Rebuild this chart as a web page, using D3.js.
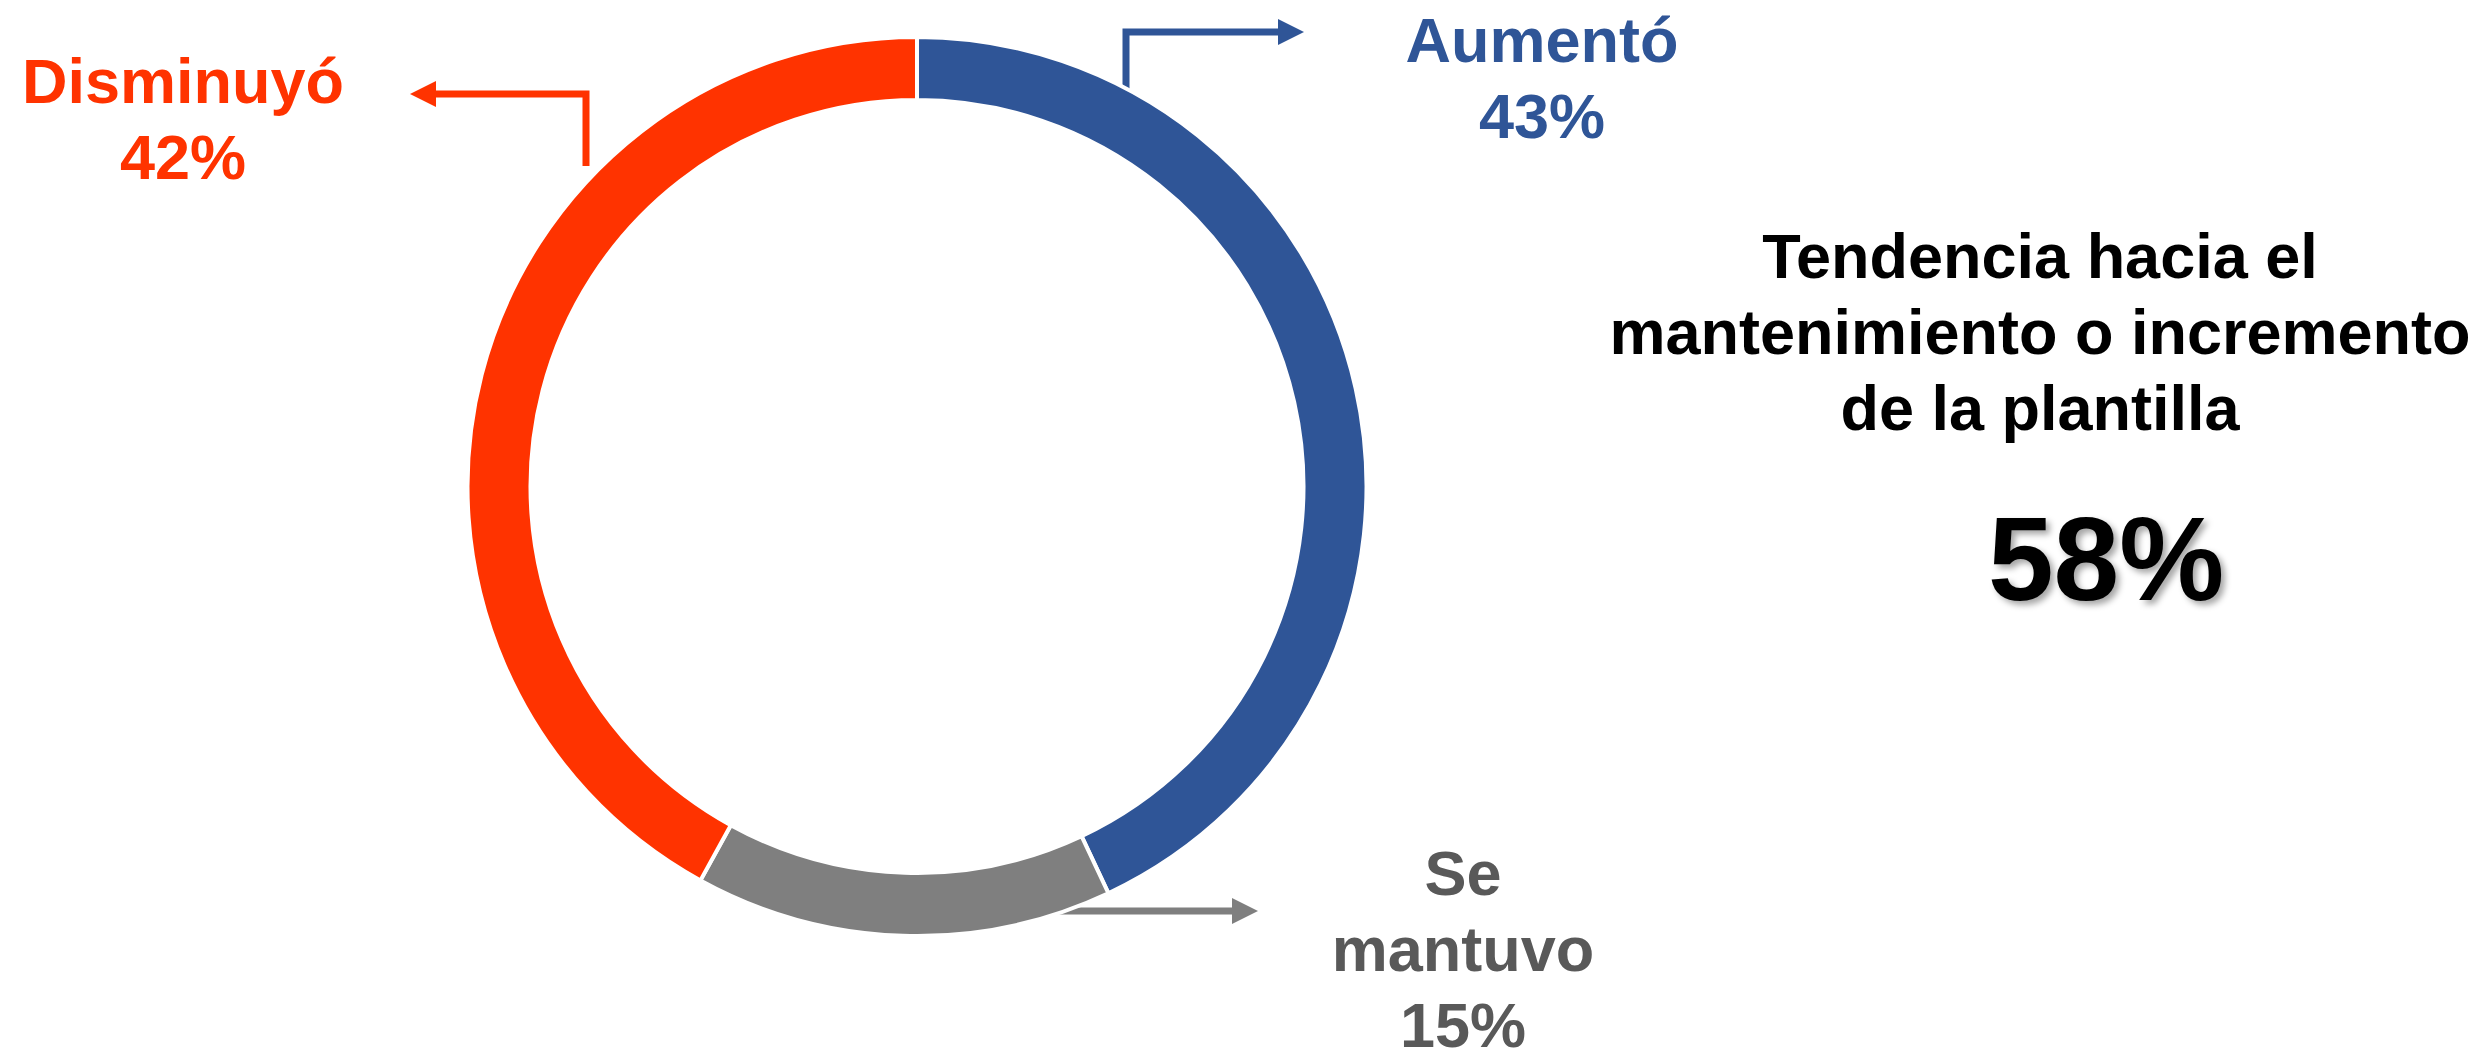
<!DOCTYPE html>
<html>
<head>
<meta charset="utf-8">
<script src="https://cdn.jsdelivr.net/npm/d3@7"></script>
<style>
	html, body { margin: 0; padding: 0; background: #ffffff; }
	svg text { font-family: "Liberation Sans", Arial, Helvetica, sans-serif; font-weight: bold; }
</style>
</head>
<body>
<svg id="chart" width="2492" height="1050"></svg>
<script>

// data
let categories = ["Aumentó", "Se mantuvo", "Disminuyó"];
let values = [43, 15, 42];
let labelLines = [["Aumentó"], ["Se", "mantuvo"], ["Disminuyó"]];
let sliceColors = ["#2F5597", "#7F7F7F", "#FF3300"];
let labelColors = ["#2F5597", "#595959", "#FF3300"];

let summaryLines = ["Tendencia hacia el", "mantenimiento o incremento", "de la plantilla"];
let summaryValue = "58%";

let svg = d3.select("#chart");

let cx = 917, cy = 486.5;
let outerR = 449.5, innerR = 386.5;
let headLen = 26, headW = 26;

let data = categories.map(function (c, i) {
	return { cat: c, value: values[i], lines: labelLines[i], fill: sliceColors[i], text: labelColors[i] };
});

let pie = d3.pie()
	.sort(null)
	.value(function (d) { return d.value; });

let arc = d3.arc()
	.innerRadius(innerR)
	.outerRadius(outerR);

let defs = svg.append("defs");
let shadow = defs.append("filter")
	.attr("id", "shadow")
	.attr("x", "-10%").attr("y", "-10%")
	.attr("width", "130%").attr("height", "130%");
shadow.append("feDropShadow")
	.attr("dx", 4).attr("dy", 4)
	.attr("stdDeviation", 3)
	.attr("flood-color", "#000")
	.attr("flood-opacity", 0.35);

// annotation leader lines (elbow + arrow tip as last point), in the order of categories
let leaders = [
	[[1126, 90], [1126, 32], [1304, 32]],
	[[1056, 911], [1258, 911]],
	[[586, 166], [586, 94], [410, 94]]
];

// label anchors: center x and first baseline
let labelPos = [
	{ x: 1542, y: 62 },
	{ x: 1463, y: 895 },
	{ x: 183, y: 103 }
];
let lineGap = 76;

let g = svg.append("g");

function shaft(pts) {
	// stop the line where the arrowhead starts
	let p = pts.map(function (q) { return q.slice(); });
	let a = p[p.length - 2], b = p[p.length - 1];
	let dx = b[0] - a[0], dy = b[1] - a[1];
	let len = Math.sqrt(dx * dx + dy * dy);
	b[0] = b[0] - dx / len * (headLen - 2);
	b[1] = b[1] - dy / len * (headLen - 2);
	return p;
}

function head(pts) {
	let a = pts[pts.length - 2], b = pts[pts.length - 1];
	let dx = b[0] - a[0], dy = b[1] - a[1];
	let len = Math.sqrt(dx * dx + dy * dy);
	let ux = dx / len, uy = dy / len;
	let bx = b[0] - ux * headLen, by = b[1] - uy * headLen;
	return "M" + b[0] + "," + b[1] +
		"L" + (bx - uy * headW / 2) + "," + (by + ux * headW / 2) +
		"L" + (bx + uy * headW / 2) + "," + (by - ux * headW / 2) + "Z";
}

// leaders first, the ring covers the start of the gray one
let leaderG = g.selectAll(".leader")
	.data(data)
	.enter()
	.append("g")
	.attr("class", "leader");

leaderG.append("path")
	.attr("d", function (d, i) { return d3.line()(shaft(leaders[i])); })
	.attr("fill", "none")
	.attr("stroke", function (d) { return d.fill; })
	.attr("stroke-width", 7);

leaderG.append("path")
	.attr("d", function (d, i) { return head(leaders[i]); })
	.attr("fill", function (d) { return d.fill; });

g.append("g")
	.attr("transform", "translate(" + cx + "," + cy + ")")
	.selectAll(".slice")
	.data(pie(data))
	.enter()
	.append("path")
	.attr("class", "slice")
	.attr("d", arc)
	.attr("fill", function (d) { return d.data.fill; })
	.attr("stroke", "#ffffff")
	.attr("stroke-width", 4);

// category labels
let labels = g.selectAll(".cat_label")
	.data(data)
	.enter()
	.append("text")
	.attr("class", "cat_label")
	.attr("text-anchor", "middle")
	.attr("font-size", 63)
	.attr("fill", function (d) { return d.text; });

labels.each(function (d, i) {
	let t = d3.select(this);
	let lines = d.lines.concat([d.value + "%"]);
	lines.forEach(function (s, k) {
		t.append("tspan")
			.attr("x", labelPos[i].x)
			.attr("y", labelPos[i].y + k * lineGap)
			.text(s);
	});
});

// summary block on the right
let summary = svg.append("text")
	.attr("text-anchor", "middle")
	.attr("font-size", 63)
	.attr("fill", "#000000");

summaryLines.forEach(function (s, k) {
	summary.append("tspan")
		.attr("x", 2040)
		.attr("y", 278 + k * lineGap)
		.text(s);
});

svg.append("text")
	.attr("x", 2106)
	.attr("y", 600)
	.attr("text-anchor", "middle")
	.attr("font-size", 118)
	.attr("fill", "#000000")
	.attr("filter", "url(#shadow)")
	.text(summaryValue);

</script>
</body>
</html>
